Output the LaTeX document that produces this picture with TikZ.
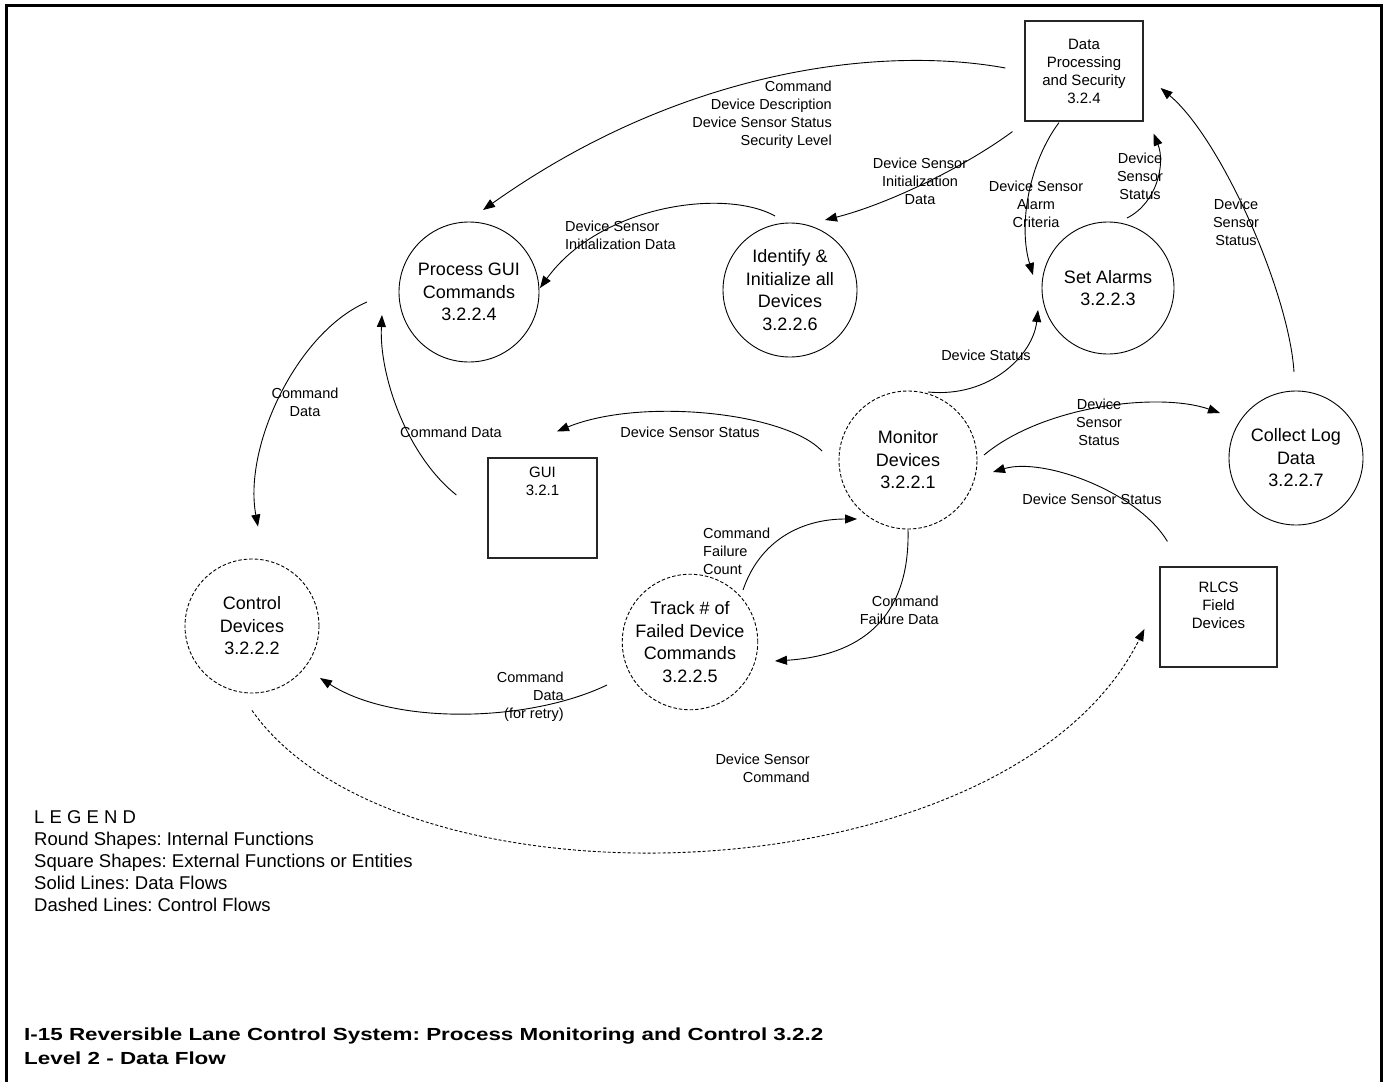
\documentclass[tikz,border=0pt]{standalone}
\usepackage{fontspec}
\setmainfont{Liberation Sans}
\newfontfamily\titlefont{Liberation Sans}[FakeStretch=1.28]
\usetikzlibrary{positioning, arrows.meta}
\frenchspacing

\begin{document}
\begin{tikzpicture}[
    x=1pt, y=-1pt,
    % --- STYLES ---
    proc/.style={
            draw,
            circle,
            line width=0.9pt,
            minimum size=134pt,
            inner sep=0pt,
            align=center,
            font=\fontsize{18}{22.5}\selectfont
        },
    ctrlproc/.style={
            proc,
            dash pattern=on 3.5pt off 2pt
        },
    extbox/.style={
            draw=black!85,
            line width=1.2pt,
            inner sep=0pt,
            align=center,
            font=\fontsize{15}{18}\selectfont
        },
    flow/.style={
            -{Triangle[length=12pt, width=9pt]},
            line width=0.9pt
        },
    ctrlflow/.style={
            flow,
            dash pattern=on 3pt off 2pt
        },
    lbl/.style={
            inner sep=0pt,
            align=center,
            font=\fontsize{14.5}{18}\selectfont
        },
    boxtxt/.style={
            lbl,
            font=\fontsize{15}{18}\selectfont
        }
    ]

    \useasboundingbox (0,0) rectangle (1385,1082);

    % --- FRAME ---
    \draw[line width=2.5pt] (6.5,1082) -- (6.5,5.5) -- (1381.5,5.5) -- (1381.5,1082);

    % --- PROCESSES (round shapes) ---
    \node[proc, minimum size=140pt] (pgui) at (469,292) {Process GUI\\Commands\\3.2.2.4};
    \node[proc] (ident) at (790,290) {Identify \&\\Initialize all\\Devices\\3.2.2.6};
    \node[proc, minimum size=132pt] (setal) at (1108,288) {Set Alarms\\3.2.2.3};
    \node[ctrlproc, minimum size=138pt] (mon) at (908,460) {Monitor\\Devices\\3.2.2.1};
    \node[proc] (clog) at (1296,458) {Collect Log\\Data\\3.2.2.7};
    \node[ctrlproc] (ctrl) at (252,626) {Control\\Devices\\3.2.2.2};
    \node[ctrlproc] (track) at (690,642) {Track \# of\\Failed Device\\Commands\\3.2.2.5};

    % --- EXTERNAL ENTITIES (square shapes) ---
    \node[extbox, minimum width=118pt, minimum height=100pt] (dps) at (1084,71) {Data\\Processing\\and Security\\3.2.4};
    \node[extbox, minimum width=109pt, minimum height=100pt] (gui) at (542.5,508) {};
    \node[boxtxt, below=9pt of gui.north] (guitext) {GUI\\3.2.1};
    \node[extbox, minimum width=117pt, minimum height=100pt] (rlcs) at (1218.5,617) {};
    \node[boxtxt, below=15pt of rlcs.north] (rlcstext) {RLCS\\Field\\Devices};

    % --- DATA FLOWS ---
    \draw[flow] ([shift={(-19,-3)}]dps.west) .. controls +(-126,-23) and +(197,-140) .. ([shift={(14,-82)}]pgui.center);
    \draw[flow] ([shift={(-12,10)}]dps.south west) .. controls +(-50,37) and +(60,-15) .. ([shift={(35,-70)}]ident.center);
    \draw[flow] ([shift={(-15,-74)}]ident.center) .. controls +(-50,-28) and +(60,-83) .. ([shift={(71,-4)}]pgui.center);
    \draw[flow] ([shift={(-25,1)}]dps.south) .. controls +(-30,40) and +(-15,-50) .. ([shift={(-75,-13)}]setal.center);
    \draw[flow] ([shift={(19,-70)}]setal.center) .. controls +(30,-15) and +(12,30) .. ([shift={(10,12)}]dps.south east);
    \draw[flow] ([shift={(-2,-86)}]clog.center) .. controls +(-5,-80) and +(60,50) .. ([shift={(17,17)}]dps.east);
    \draw[flow] ([shift={(20,-68)}]mon.center) .. controls +(62,6) and +(-5,45) .. ([shift={(-70,22)}]setal.center);
    \draw[flow] ([shift={(-86,-9)}]mon.center) .. controls +(-37,-39) and +(83,-34) .. ([shift={(14.5,-26)}]gui.north);
    \draw[flow] ([shift={(-31,-13)}]gui.west) .. controls +(-50,-40) and +(-3,60) .. ([shift={(-87,23)}]pgui.center);
    \draw[flow] ([shift={(-102,10)}]pgui.center) .. controls +(-70,30) and +(-15,-80) .. ([shift={(6,-32)}]ctrl.north);
    \draw[flow] ([shift={(53,-52)}]track.center) .. controls +(17,-50) and +(-55,0) .. ([shift={(-51,59)}]mon.center);
    \draw[flow] (mon.south) .. controls +(2,80) and +(95,-6) .. ([shift={(85,19)}]track.center);
    \draw[flow] ([shift={(-83,43)}]track.center) .. controls +(-77,37) and +(75,48) .. ([shift={(68,52)}]ctrl.center);
    \draw[flow] ([shift={(8,-25)}]rlcs.north west) .. controls +(-30,-50) and +(50,-15) .. ([shift={(85,12)}]mon.center);
    \draw[flow] ([shift={(76,-5)}]mon.center) .. controls +(60,-50) and +(-60,-21) .. ([shift={(-76,-45)}]clog.center);

    % --- CONTROL FLOW ---
    \draw[ctrlflow] ([shift={(0,17)}]ctrl.south) .. controls +(148,210) and +(-135,271) .. ([shift={(-15,12)}]rlcs.west);

    % --- FLOW LABELS ---
    \node[lbl, anchor=east, align=right] (lcmd) at (832,115) {Command\\Device Description\\Device Sensor Status\\Security Level};
    \node[lbl] (linit) at (920,181) {Device Sensor\\Initialization\\Data};
    \node[lbl, anchor=west, align=left] (linitgui) at (565,235) {Device Sensor\\Initialization Data};
    \node[lbl] (lalarm) at (1036,204) {Device Sensor\\Alarm\\Criteria};
    \node[lbl] (lalstat) at (1140,176) {Device\\Sensor\\Status};
    \node[lbl] (llogstat) at (1236,222) {Device\\Sensor\\Status};
    \node[lbl] (ldevstat) at (986,355) {Device Status};
    \node[lbl] (lguistat) at (690,432) {Device Sensor Status};
    \node[lbl] (lguicmd) at (451,432) {Command Data};
    \node[lbl] (lctrlcmd) at (305,402) {Command\\Data};
    \node[lbl, anchor=west, align=left] (lcount) at (703,551) {Command\\Failure\\Count};
    \node[lbl, anchor=east, align=right] (lfail) at (939,610) {Command\\Failure Data};
    \node[lbl, anchor=east, align=right] (lretry) at (564,697) {Command\\Data\\(for retry)};
    \node[lbl] (lfield) at (1092,499) {Device Sensor Status};
    \node[lbl] (lmonlog) at (1099,422) {Device\\Sensor\\Status};
    \node[lbl, anchor=east, align=right] (lsensor) at (810,768) {Device Sensor\\Command};

    % --- LEGEND & TITLE ---
    \node[inner sep=0pt, anchor=west, align=left, font=\fontsize{18.5}{22}\selectfont] (legend) at (34,861.5) {L E G E N D\\Round Shapes: Internal Functions\\Square Shapes: External Functions or Entities\\Solid Lines: Data Flows\\Dashed Lines: Control Flows};
    \node[inner sep=0pt, anchor=west, align=left, font=\titlefont\bfseries\fontsize{17.5}{24}\selectfont] (title) at (24,1046) {I-15 Reversible Lane Control System: Process Monitoring and Control 3.2.2\\Level 2 - Data Flow};

\end{tikzpicture}
\end{document}
